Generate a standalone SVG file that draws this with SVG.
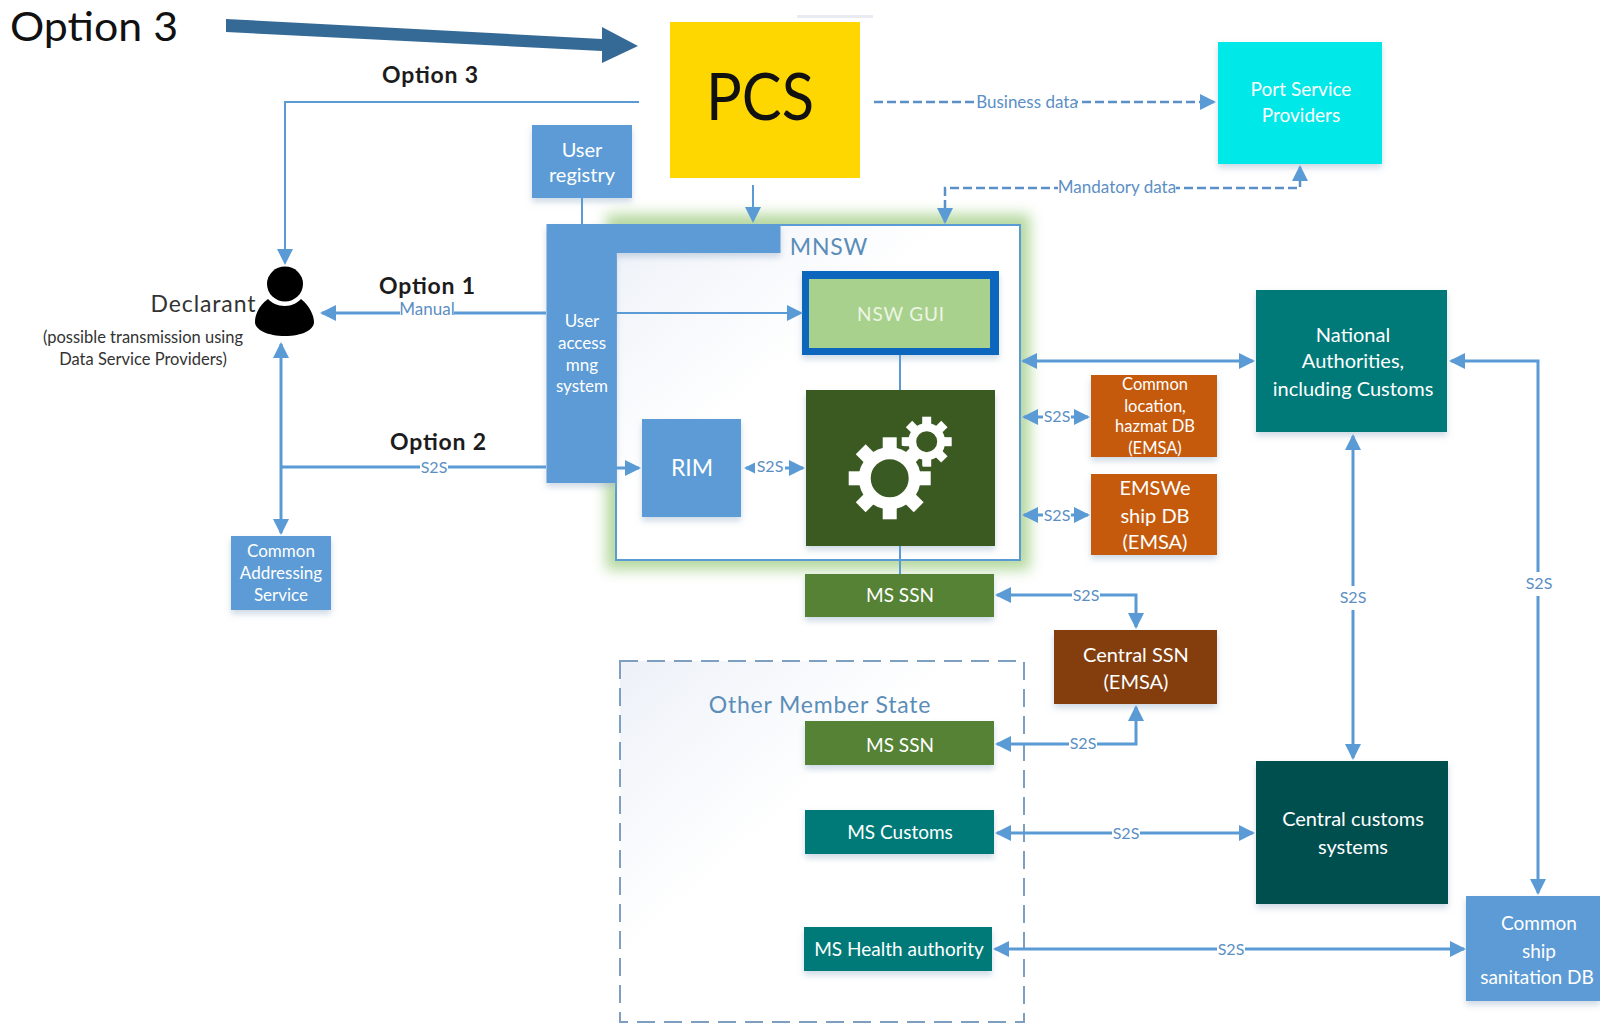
<svg xmlns="http://www.w3.org/2000/svg" width="1600" height="1024" viewBox="0 0 1600 1024">
<style>
text{font-family:Lato,"Open Sans","Liberation Sans",sans-serif;text-anchor:middle}
.box{filter:url(#sh)}
.w{fill:#fff}
.s19{font-size:19px}.s20{font-size:20px}.s17{font-size:17px}.s16{font-size:16.5px}
.opt{font-size:23px;font-weight:700;fill:#1c1c1c}
.lbl{font-size:16px;fill:#5b8fc4}
.lbl2{font-size:17px;fill:#5b8fc4}
.ln{fill:none;stroke:#5b9bd5;stroke-width:2}
.th{fill:none;stroke:#5b9bd5;stroke-width:3}
.dash{fill:none;stroke:#5b8fc8;stroke-width:2.5;stroke-dasharray:9 4}
.halo{fill:#fff;stroke:none}
.sect{font-size:23px;fill:#5b8db8;letter-spacing:.8px}
.t{fill:#fff}
</style>
<defs>
<filter id="sh" x="-10%" y="-10%" width="120%" height="130%"><feDropShadow dx="0" dy="4" stdDeviation="3" flood-color="#9db4cc" flood-opacity=".5"/></filter>
<filter id="glow" x="-10%" y="-10%" width="120%" height="120%"><feGaussianBlur stdDeviation="7"/></filter>
<linearGradient id="pane" x1="0" y1="0" x2="1" y2="1"><stop offset="0" stop-color="#edf1f8"/><stop offset=".42" stop-color="#fff"/></linearGradient>
<marker id="a" markerUnits="userSpaceOnUse" markerWidth="18" markerHeight="18" viewBox="0 0 18 18" refX="14" refY="9" orient="auto-start-reverse"><path d="M0 1L16 9L0 17Z" fill="#5b9bd5"/></marker>
<rect id="tb" x="-7" y="-41" width="14" height="12"/>
<rect id="ts" x="-4.5" y="-25" width="9" height="9"/>
</defs>

<g id="banner">
<text x="94" y="41" font-size="41" fill="#111" textLength="168" lengthAdjust="spacingAndGlyphs">Option 3</text>
<polygon points="226,19 602,39 602,27 638,46 602,63 602,51 226,32" fill="#366a96"/>
<rect x="797" y="15" width="76" height="3" fill="#e8ecf2"/>
</g>

<g id="mnsw">
<rect x="606" y="214" width="424" height="356" fill="#a9d18e" opacity=".85" filter="url(#glow)"/>
<rect x="616" y="225" width="404" height="335" fill="url(#pane)" stroke="#5b9bd5" stroke-width="2"/>
<text x="829" y="255" class="sect">MNSW</text>
</g>

<g id="other-member-state">
<rect x="620" y="661" width="404" height="361" fill="url(#pane)" stroke="#7f9fc0" stroke-width="2" stroke-dasharray="18 9"/>
<text x="820" y="713" class="sect">Other Member State</text>
</g>

<g id="pcs">
<rect x="670" y="22" width="190" height="156" fill="#ffd700"/>
<text x="760" y="120" font-size="66" fill="#111" textLength="108" lengthAdjust="spacingAndGlyphs">PCS</text>
</g>

<g id="port-service-providers">
<rect class="box" x="1218" y="42" width="164" height="122" fill="#00e8e8"/>
<text x="1301" y="96" class="t s19">Port Service</text>
<text x="1301" y="122" class="t s19">Providers</text>
</g>

<g id="user-registry">
<rect class="box" x="532" y="125" width="100" height="73" fill="#5b9bd5"/>
<text x="582" y="157" class="t s20">User</text>
<text x="582" y="182" class="t s20">registry</text>
</g>

<g id="user-access">
<path class="box" d="M546.500 224H780.500V253H616V483H546.500Z" fill="#5b9bd5"/>
<text x="582" y="327" class="t s17">User</text>
<text x="582" y="349" class="t s17">access</text>
<text x="582" y="371" class="t s17">mng</text>
<text x="582" y="392" class="t s17">system</text>
</g>

<g id="nsw-gui">
<rect class="box" x="802" y="271" width="197" height="84" fill="#0866bd"/>
<rect x="809" y="279" width="181" height="69" fill="#a9d18e"/>
<text x="901" y="321" class="s19" fill="#edf5e4" letter-spacing=".8">NSW GUI</text>
</g>

<g id="engine">
<rect class="box" x="806" y="390" width="189" height="156" fill="#3a5a24"/>
<g fill="#fff" transform="translate(926.700 441.700)">
<circle r="14.500" fill="none" stroke="#fff" stroke-width="8"/>
<use href="#ts"/><use href="#ts" transform="rotate(45)"/><use href="#ts" transform="rotate(90)"/><use href="#ts" transform="rotate(135)"/><use href="#ts" transform="rotate(180)"/><use href="#ts" transform="rotate(225)"/><use href="#ts" transform="rotate(270)"/><use href="#ts" transform="rotate(315)"/>
</g>
<g fill="#fff" transform="translate(889.700 478.300)">
<circle r="35" fill="#3a5a24"/>
<circle r="25" fill="#3a5a24" stroke="#fff" stroke-width="12"/>
<use href="#tb"/><use href="#tb" transform="rotate(45)"/><use href="#tb" transform="rotate(90)"/><use href="#tb" transform="rotate(135)"/><use href="#tb" transform="rotate(180)"/><use href="#tb" transform="rotate(225)"/><use href="#tb" transform="rotate(270)"/><use href="#tb" transform="rotate(315)"/>
</g>
</g>

<g id="rim">
<rect class="box" x="642" y="419" width="99" height="98" fill="#5b9bd5"/>
<text x="692" y="476" font-size="23" class="t">RIM</text>
</g>

<g id="declarant">
<ellipse cx="285" cy="284" rx="18" ry="17.500" fill="#000"/>
<path d="M285 306C277 306 272 303 268 299C258 306 255 316 255 322C255 330 268 336 285 336C302 336 314 330 314 322C314 316 310 306 301 299C297 303 292 306 285 306Z" fill="#000"/>
<text x="203" y="312" font-size="23" fill="#333" textLength="105">Declarant</text>
<text x="143" y="343" class="s16" fill="#333">(possible transmission using</text>
<text x="143" y="365" class="s16" fill="#333">Data Service Providers)</text>
</g>

<g id="common-addressing">
<rect class="box" x="231" y="536" width="100" height="74" fill="#5b9bd5"/>
<text x="281" y="557" class="t s17">Common</text>
<text x="281" y="579" class="t s17">Addressing</text>
<text x="281" y="601" class="t s17">Service</text>
</g>

<g id="common-location">
<rect class="box" x="1091" y="375" width="126" height="82" fill="#c55a11"/>
<text x="1155" y="390" class="t s16">Common</text>
<text x="1155" y="412" class="t s16">location,</text>
<text x="1155" y="432" class="t s16">hazmat DB</text>
<text x="1155" y="454" class="t s16">(EMSA)</text>
</g>

<g id="emswe">
<rect class="box" x="1091" y="474" width="126" height="81" fill="#c55a11"/>
<text x="1155" y="495" class="t s20">EMSWe</text>
<text x="1155" y="523" class="t s20">ship DB</text>
<text x="1155" y="549" class="t s20">(EMSA)</text>
</g>

<g id="national-authorities">
<rect class="box" x="1256" y="290" width="191" height="142" fill="#047a78"/>
<text x="1353" y="342" class="t s20">National</text>
<text x="1353" y="368" class="t s20">Authorities,</text>
<text x="1353" y="396" class="t s20">including Customs</text>
</g>

<g id="ms-ssn">
<rect class="box" x="805" y="574" width="189" height="43" fill="#548235"/>
<text x="900" y="602" class="t s19">MS SSN</text>
</g>

<g id="central-ssn">
<rect class="box" x="1054" y="630" width="163" height="74" fill="#843c0c"/>
<text x="1136" y="662" class="t s20">Central SSN</text>
<text x="1136" y="689" class="t s20">(EMSA)</text>
</g>

<g id="ms-ssn-other">
<rect class="box" x="805" y="721" width="189" height="44" fill="#548235"/>
<text x="900" y="752" class="t s19">MS SSN</text>
</g>

<g id="ms-customs">
<rect class="box" x="805" y="810" width="189" height="44" fill="#047a78"/>
<text x="900" y="839" class="t s19">MS Customs</text>
</g>

<g id="ms-health">
<rect class="box" x="804" y="927" width="188" height="44" fill="#047a78"/>
<text x="899" y="956" class="t s19">MS Health authority</text>
</g>

<g id="central-customs">
<rect class="box" x="1256" y="761" width="192" height="143" fill="#004f4f"/>
<text x="1353" y="826" class="t s20">Central customs</text>
<text x="1353" y="854" class="t s20">systems</text>
</g>

<g id="common-ship">
<rect class="box" x="1466" y="896" width="134" height="105" fill="#5b9bd5"/>
<text x="1539" y="930" class="t s19">Common</text>
<text x="1539" y="958" class="t s19">ship</text>
<text x="1537" y="984" class="t s19">sanitation DB</text>
</g>

<g id="connectors">
<path class="ln" d="M639 102H285V263" marker-end="url(#a)"/>
<path class="ln" d="M582 198V224"/>
<path class="ln" d="M753 185V221" marker-end="url(#a)"/>
<path class="ln" d="M900 355V390"/>
<path class="ln" d="M900 546V574"/>
<path class="th" d="M546 313H322" marker-end="url(#a)"/>
<path class="ln" d="M616 313H801" marker-end="url(#a)"/>
<path class="th" d="M546 467H281"/>
<path class="th" d="M281 344V533" marker-start="url(#a)" marker-end="url(#a)"/>
<path class="th" d="M616 468H639" marker-end="url(#a)"/>
<path class="th" d="M746 468H803" marker-start="url(#a)" marker-end="url(#a)"/>
<path class="dash" d="M874 102H1214" marker-end="url(#a)"/>
<path class="dash" d="M945 222V188H1300V167" marker-end="url(#a)"/>
<path class="ln" d="M945 210V222" marker-end="url(#a)"/>
<path class="th" d="M1023 361H1253" marker-start="url(#a)" marker-end="url(#a)"/>
<path class="th" d="M1024 417H1088" marker-start="url(#a)" marker-end="url(#a)"/>
<path class="th" d="M1024 515H1088" marker-start="url(#a)" marker-end="url(#a)"/>
<path class="th" d="M1451 361H1538V893" marker-start="url(#a)" marker-end="url(#a)"/>
<path class="th" d="M1353 436V758" marker-start="url(#a)" marker-end="url(#a)"/>
<path class="th" d="M997 595H1136V627" marker-start="url(#a)" marker-end="url(#a)"/>
<path class="th" d="M997 744H1136V707" marker-start="url(#a)" marker-end="url(#a)"/>
<path class="th" d="M997 833H1253" marker-start="url(#a)" marker-end="url(#a)"/>
<path class="th" d="M995 949H1464" marker-start="url(#a)" marker-end="url(#a)"/>

<rect class="halo" x="400" y="302" width="54" height="20"/>
<rect class="halo" x="420" y="458" width="28" height="20"/>
<rect class="halo" x="755" y="458" width="30" height="20"/>
<rect class="halo" x="977" y="92" width="100" height="20"/>
<rect class="halo" x="1058" y="178" width="118" height="20"/>
<rect class="halo" x="1043" y="407" width="28" height="20"/>
<rect class="halo" x="1043" y="505" width="28" height="20"/>
<rect class="halo" x="1072" y="585" width="28" height="20"/>
<rect class="halo" x="1069" y="734" width="28" height="20"/>
<rect class="halo" x="1112" y="823" width="28" height="20"/>
<rect class="halo" x="1217" y="939" width="28" height="20"/>
<rect class="halo" x="1525" y="572" width="28" height="24"/>
<rect class="halo" x="1339" y="586" width="28" height="24"/>

<text x="427" y="315" class="lbl2">Manual</text>
<text x="434" y="473" class="lbl">S2S</text>
<text x="770" y="472" class="lbl">S2S</text>
<text x="1027" y="108" class="lbl2">Business data</text>
<text x="1117" y="193" class="lbl2">Mandatory data</text>
<text x="1057" y="422" class="lbl">S2S</text>
<text x="1057" y="521" class="lbl">S2S</text>
<text x="1086" y="601" class="lbl">S2S</text>
<text x="1083" y="749" class="lbl">S2S</text>
<text x="1126" y="839" class="lbl">S2S</text>
<text x="1231" y="955" class="lbl">S2S</text>
<text x="1539" y="589" class="lbl">S2S</text>
<text x="1353" y="603" class="lbl">S2S</text>
<text x="430" y="83" class="opt" textLength="96">Option 3</text>
<text x="427" y="294" class="opt" textLength="96">Option 1</text>
<text x="438" y="450" class="opt" textLength="96">Option 2</text>
</g>
</svg>
